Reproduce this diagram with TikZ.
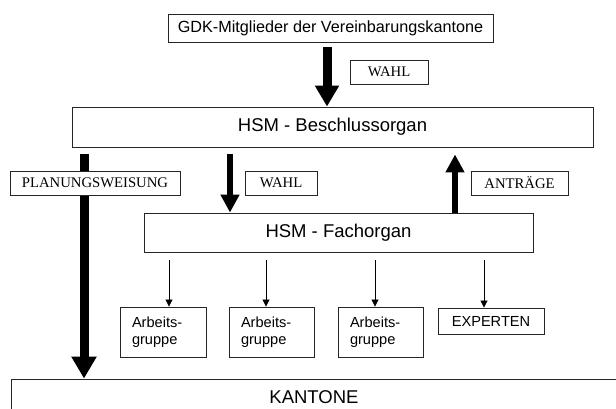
\documentclass[tikz,border=0pt]{standalone}
\usepackage{fontspec}
\setmainfont{Liberation Sans}
\newfontfamily\seriflbl{Liberation Serif}
\usetikzlibrary{arrows.meta}
\pgfdeclarelayer{bg}
\pgfsetlayers{bg,main}
\begin{document}
\begin{tikzpicture}[x=1pt,y=-1pt,
  box/.style={draw=black!85, line width=0.9pt, fill=white, inner sep=0pt, align=center},
  bigtext/.style={font=\fontsize{18.5}{22}\selectfont},
  lbl/.style={box, font=\seriflbl\fontsize{14.7}{17}\selectfont, minimum height=24pt},
  agbox/.style={box, minimum height=50pt, text width=62pt, inner xsep=12pt, align=left, font=\fontsize{14.6}{17.5}\selectfont},
  fatarrow/.style={line width=9pt, -{Triangle[width=23pt,length=21pt]}},
  leftarrow/.style={line width=9pt, -{Triangle[width=24pt,length=22pt]}},
  midarrow/.style={line width=6pt, -{Triangle[width=18pt,length=18pt]}},
  thinarrow/.style={line width=0.8pt, -{Triangle[width=7pt,length=7pt]}}]
\useasboundingbox (0,0) rectangle (616,408);
\node[box, minimum width=325pt, minimum height=28pt, font=\fontsize{16.2}{19}\selectfont] (gdk) at (330.5,28) {GDK-Mitglieder der Vereinbarungskantone};
\node[lbl, minimum width=78pt] (wahla) at (389,72) {WAHL};
\node[box, bigtext, minimum width=521pt, minimum height=40pt] (besch) at (332.5,127) {HSM - Beschlussorgan};
\node[lbl, minimum width=170pt] (plan) at (95,183) {PLANUNGSWEISUNG};
\node[lbl, minimum width=72pt] (wahlb) at (281,183) {WAHL};
\node[lbl, minimum width=97pt] (antr) at (519.5,183) {ANTRÄGE};
\node[box, bigtext, minimum width=389pt, minimum height=39pt] (fach) at (338.5,232.5) {HSM - Fachorgan};
\node[agbox] (ag1) at (163,332) {Arbeits-\\gruppe};
\node[agbox, text width=61pt] (ag2) at (271.5,332) {Arbeits-\\gruppe};
\node[agbox, text width=61pt] (ag3) at (380.5,332) {Arbeits-\\gruppe};
\node[box, minimum width=106pt, minimum height=26pt, font=\fontsize{14.6}{17.5}\selectfont] (exp) at (491,321) {EXPERTEN};
\node[box, bigtext, minimum width=606pt, minimum height=36pt] (kant) at (314,397) {KANTONE};
\begin{pgfonlayer}{bg}
\draw[fatarrow] ([xshift=-3.5pt,yshift=-5pt]gdk.south) -- ([xshift=-5.5pt]besch.north);
\draw[leftarrow] ([xshift=-248.5pt,yshift=-7pt]besch.south) -- ([xshift=-230pt]kant.north);
\draw[midarrow] ([xshift=-102.5pt,yshift=-7pt]besch.south) -- ([xshift=-108.5pt]fach.north);
\draw[midarrow] ([xshift=116.5pt]fach.north) -- ([xshift=122.5pt,yshift=-7pt]besch.south);
\draw[thinarrow] ([xshift=-169.5pt,yshift=-8pt]fach.south) -- ([xshift=6pt]ag1.north);
\draw[thinarrow] ([xshift=-72.5pt,yshift=-8pt]fach.south) -- ([xshift=-5.5pt]ag2.north);
\draw[thinarrow] ([xshift=36.5pt,yshift=-8pt]fach.south) -- ([xshift=-5.5pt]ag3.north);
\draw[thinarrow] ([xshift=145.5pt,yshift=-8pt]fach.south) -- ([xshift=-7pt]exp.north);
\end{pgfonlayer}
\end{tikzpicture}
\end{document}
